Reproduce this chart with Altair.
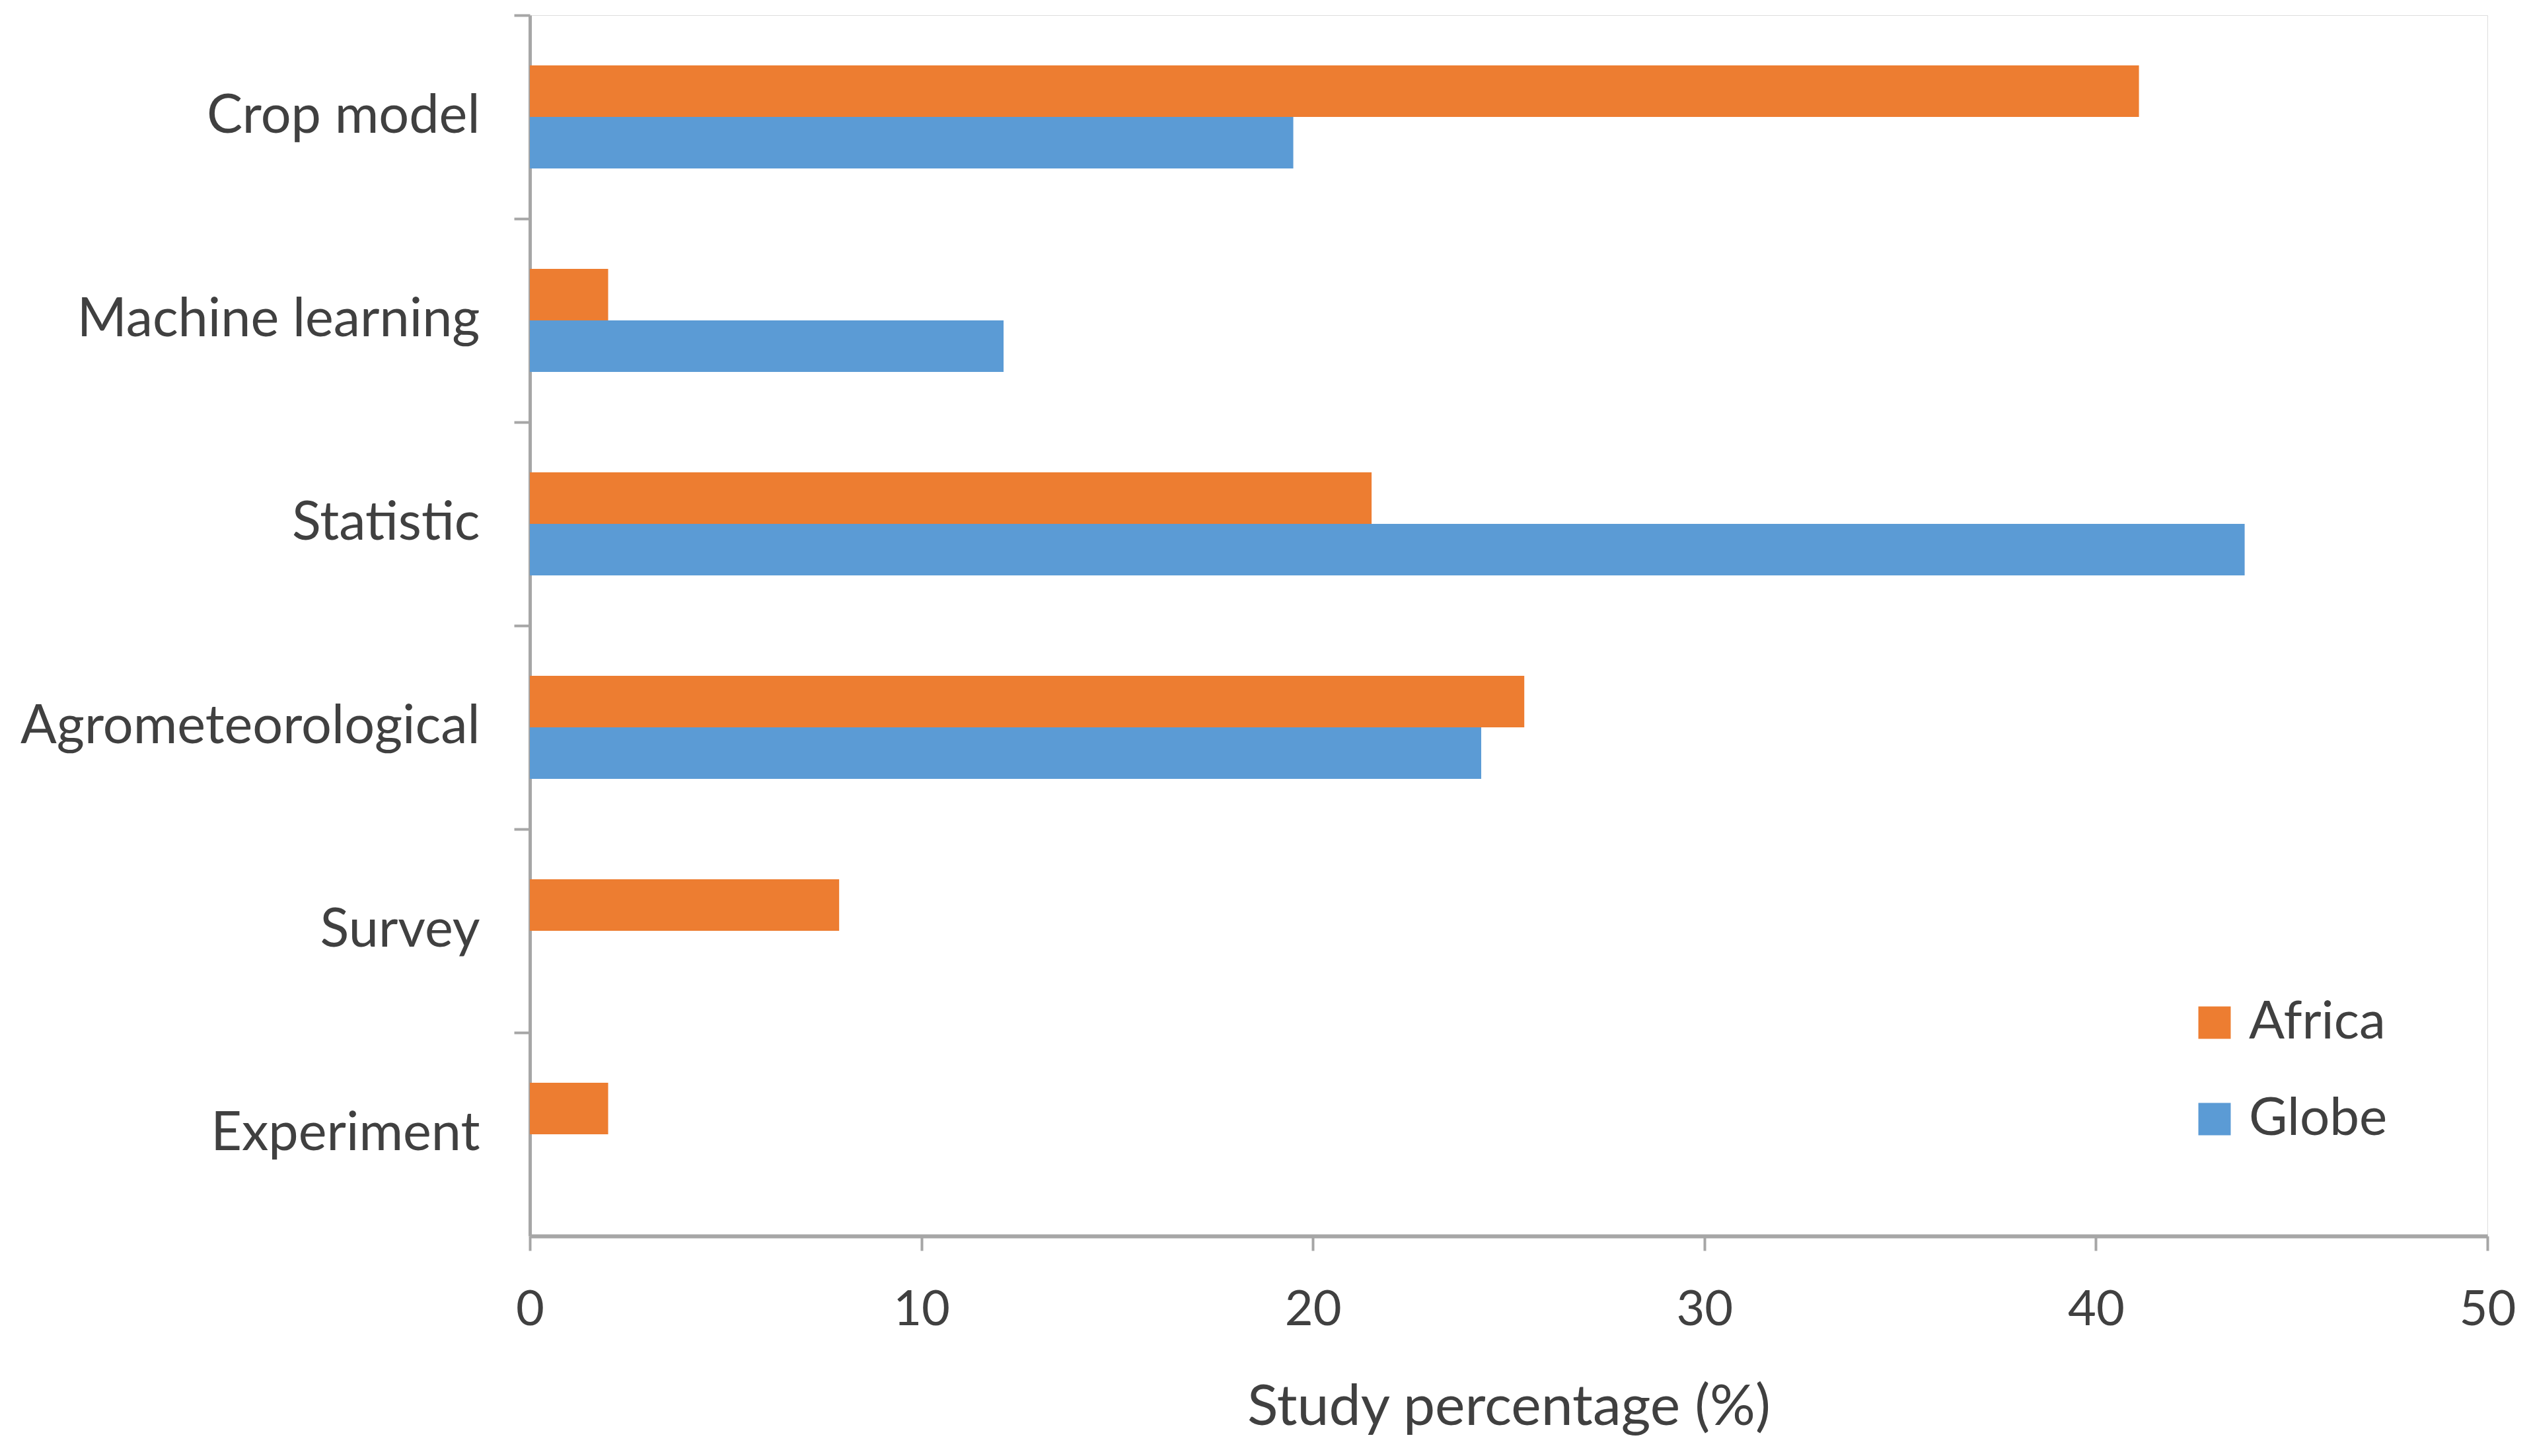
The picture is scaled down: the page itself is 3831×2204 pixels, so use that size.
import altair as alt
import pandas as pd

categories = ["Crop model", "Machine learning", "Statistic", "Agrometeorological", "Survey", "Experiment"]
africa = [41.1, 2.0, 21.5, 25.4, 7.9, 2.0]
globe = [19.5, 12.1, 43.8, 24.3, 0.0, 0.0]
series = ["Africa", "Globe"]
colors = ["#ED7D31", "#5B9BD5"]

rows = []
for c, a, g in zip(categories, africa, globe):
    rows.append({"Method": c, "Region": "Africa", "Value": a})
    rows.append({"Method": c, "Region": "Globe", "Value": g})
df = pd.DataFrame(rows)

FONT = "Lato"
TXT = "#404040"
GRID = "#a6a6a6"

chart = alt.Chart(df).mark_bar().encode(
    y=alt.Y("Method:N", sort=categories,
            scale=alt.Scale(paddingInner=0, paddingOuter=0),
            axis=alt.Axis(title=None, bandPosition=0, labelFontSize=81, labelFont=FONT,
                          labelColor=TXT, tickSize=24, tickColor=GRID, tickWidth=4,
                          domainColor=GRID, domainWidth=5, labelPadding=52,
                          labelBaseline="middle", labelLimit=0)),
    yOffset=alt.YOffset("Region:N", sort=series,
                        scale=alt.Scale(paddingInner=0, paddingOuter=0.975)),
    x=alt.X("Value:Q", scale=alt.Scale(domain=[0, 50]),
            axis=alt.Axis(title="Study percentage (%)", values=[0, 10, 20, 30, 40, 50],
                          grid=False, labelFontSize=74, labelFont=FONT, labelColor=TXT,
                          tickSize=22, tickColor=GRID, tickWidth=4, domainColor=GRID,
                          domainWidth=6, labelPadding=54, titleFont=FONT,
                          titleFontSize=86, titleFontWeight="normal", titleColor=TXT,
                          titlePadding=68, labelFlush=False)),
    color=alt.Color("Region:N", sort=series,
                    scale=alt.Scale(domain=series, range=colors),
                    legend=alt.Legend(title=None, orient="none", legendX=2510, legendY=1485,
                                      labelFont=FONT, labelFontSize=80, labelColor=TXT,
                                      symbolType="square", symbolSize=2400,
                                      symbolStrokeWidth=0, symbolOpacity=1,
                                      rowPadding=66, labelOffset=12, labelLimit=0)),
).properties(
    width=2963, height=1848,
    autosize=alt.AutoSizeParams(type="none"),
    padding={"left": 794, "top": 15, "right": 50, "bottom": 325},
).configure_view(
    stroke="#b3b3b3", strokeWidth=4
).configure(background="white")

chart.save("out.html", embed_options={"renderer": "svg", "actions": False})
